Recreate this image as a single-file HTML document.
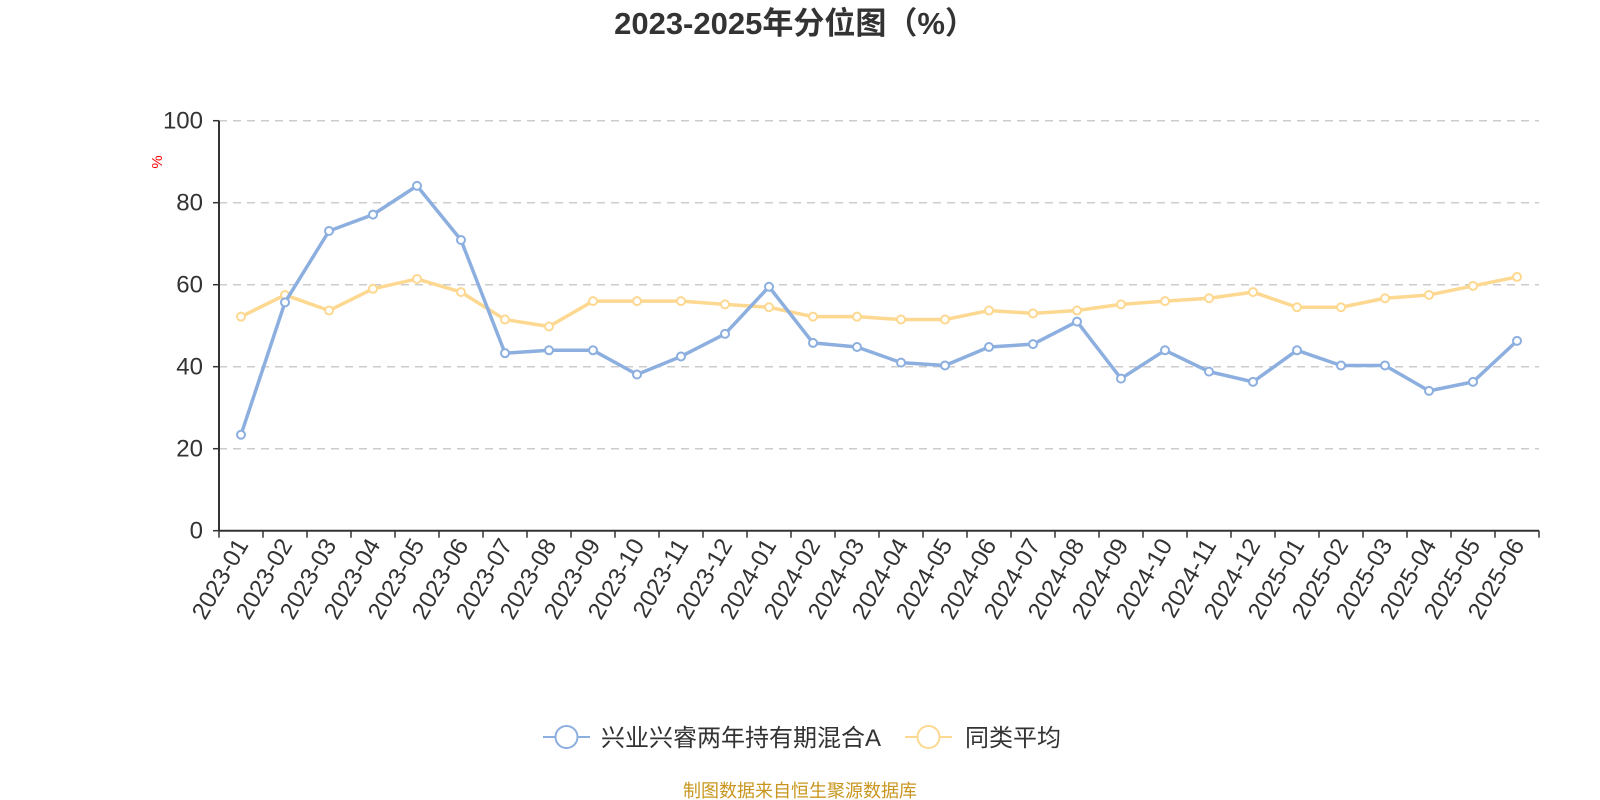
<!DOCTYPE html>
<html><head><meta charset="utf-8">
<style>
body{margin:0;background:#fff;}
svg{display:block;font-family:"Liberation Sans","Noto Sans CJK SC",sans-serif;}
</style></head>
<body>
<svg id="chart" width="1600" height="800" viewBox="0 0 1600 800" xmlns="http://www.w3.org/2000/svg">
<text x="795" y="34" text-anchor="middle" font-size="31" font-weight="bold" fill="#333">2023-2025年分位图（%）</text>
<text x="0" y="0" transform="translate(162,162) rotate(-90)" text-anchor="middle" font-size="15" fill="#ff0000">%</text>
<g id="grid"></g><g id="axes"></g><g id="series"></g>
<g>
<g>
<line x1="543" y1="737" x2="590" y2="737" stroke="#8cafdf" stroke-width="2"/>
<circle cx="566.5" cy="737" r="11" fill="#fff" stroke="#8cafdf" stroke-width="2"/>
<text x="601" y="746" font-size="24" fill="#333">兴业兴睿两年持有期混合A</text>
</g>
<g>
<line x1="905" y1="737" x2="952" y2="737" stroke="#fdd891" stroke-width="2"/>
<circle cx="928.5" cy="737" r="11" fill="#fff" stroke="#fdd891" stroke-width="2"/>
<text x="965" y="746" font-size="24" fill="#333">同类平均</text>
</g>
</g>
<text x="800" y="797" text-anchor="middle" font-size="18" fill="#c8961e">制图数据来自恒生聚源数据库</text>
</svg>
<script>
const categories=["2023-01","2023-02","2023-03","2023-04","2023-05","2023-06","2023-07","2023-08","2023-09","2023-10","2023-11","2023-12","2024-01","2024-02","2024-03","2024-04","2024-05","2024-06","2024-07","2024-08","2024-09","2024-10","2024-11","2024-12","2025-01","2025-02","2025-03","2025-04","2025-05","2025-06"];
const fundValues=[23.4,55.7,73.1,77.1,84.1,70.9,43.3,44.0,44.0,38.1,42.5,48.0,59.5,45.8,44.8,41.0,40.3,44.8,45.5,51.0,37.1,44.0,38.8,36.3,44.0,40.3,40.3,34.1,36.3,46.3];
const avgValues=[52.2,57.5,53.7,59.0,61.4,58.2,51.5,49.8,56.0,56.0,56.0,55.2,54.5,52.2,52.2,51.5,51.5,53.7,53.0,53.7,55.2,56.0,56.7,58.2,54.5,54.5,56.7,57.5,59.7,61.9];
const yTicks=[0,20,40,60,80,100];
const NS="http://www.w3.org/2000/svg";
const X0=219,X1=1539,Y0=530.7,Y1=120.7;
const band=(X1-X0)/categories.length;
function xPos(i){return X0+band*(i+0.5);}
function yPos(v){return Y0-(v/100)*(Y0-Y1);}
function mk(tag,attrs,parent){const e=document.createElementNS(NS,tag);for(const k in attrs)e.setAttribute(k,attrs[k]);parent.appendChild(e);return e;}
const grid=document.getElementById('grid'),axes=document.getElementById('axes'),series=document.getElementById('series');
yTicks.forEach(t=>{
  const y=yPos(t);
  if(t>0){const g=mk('line',{x1:X0,x2:X1,y1:y,y2:y,stroke:'#ccc','stroke-width':1.5,'stroke-dasharray':'8,6'},grid);
  
  }
  const tk=mk('line',{x1:X0-6,x2:X0,y1:y,y2:y,stroke:'#333','stroke-width':1.5},axes);
  
  
  const lb=mk('text',{x:X0-16,y:y+8,'text-anchor':'end','font-size':24,fill:'#333'},axes);
  lb.textContent=t;
  
  
});
const ya=mk('line',{x1:X0,x2:X0,y1:Y1,y2:Y0,stroke:'#333','stroke-width':2},axes);


const xa=mk('line',{x1:X0,x2:X1,y1:Y0,y2:Y0,stroke:'#333','stroke-width':2},axes);


for(let i=0;i<=categories.length;i++){
  const x=X0+band*i;
  const tk=mk('line',{x1:x,x2:x,y1:Y0,y2:Y0+7,stroke:'#333','stroke-width':1.5},axes);
  
  
}
categories.forEach((c,i)=>{
  const x=xPos(i);
  const lb=mk('text',{x:0,y:0,transform:`translate(${x+8},${Y0+14}) rotate(-60)`,'text-anchor':'end','font-size':24,fill:'#333'},axes);
  lb.textContent=c;
  
  
});
function drawSeries(vals,color,name){
  const pts=vals.map((v,i)=>xPos(i)+','+yPos(v)).join(' ');
  const pl=mk('polyline',{points:pts,fill:'none',stroke:color,'stroke-width':3.5,'stroke-linejoin':'round'},series);
  
  
  vals.forEach((v,i)=>{
    const c=mk('circle',{cx:xPos(i),cy:yPos(v),r:4,fill:'#fff',stroke:color,'stroke-width':2},series);
    
    
  });
}
drawSeries(avgValues,'#fdd891','average');
drawSeries(fundValues,'#8cafdf','fund');
</script>
</body></html>
